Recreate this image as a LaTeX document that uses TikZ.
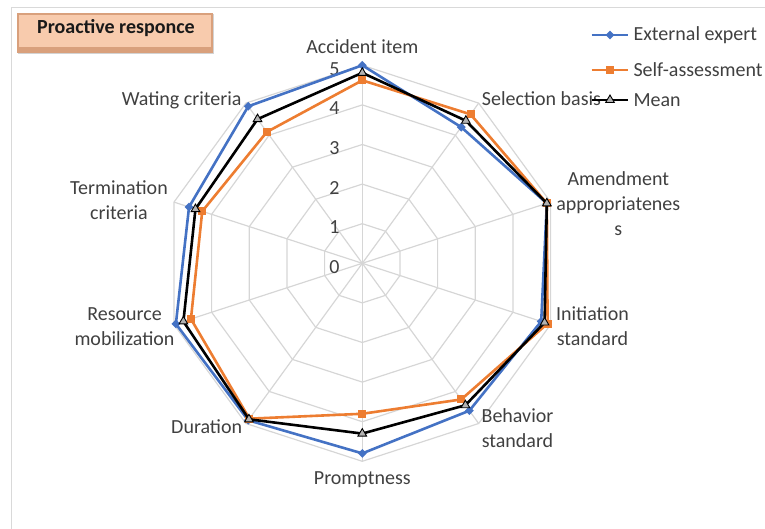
\documentclass[tikz,border=0pt]{standalone}
\usepackage{fontspec}
\setmainfont{Carlito}
\usetikzlibrary{positioning, calc, shapes.geometric, shadows}
\definecolor{expblue}{HTML}{4472C4}
\definecolor{selforange}{HTML}{ED7D31}
\definecolor{gridgray}{HTML}{D6D6D6}
\definecolor{labgray}{HTML}{404040}
\definecolor{peach}{HTML}{F8CBAD}
\definecolor{peachdk}{HTML}{D9A07C}
\tikzset{%
	webline/.style={draw=gridgray, line width=1.2pt},
	serie/.style={line width=2.6pt, line join=round},
	expert/.style={serie, draw=expblue},
	selfas/.style={serie, draw=selforange},
	avg/.style={serie, draw=black},
	dmark/.style={diamond, fill=expblue, inner sep=0, minimum size=9pt},
	smark/.style={rectangle, fill=selforange, inner sep=0, minimum size=8pt},
	tmark/.style={regular polygon, regular polygon sides=3, draw=black, fill=black!30,%
		line width=0.9pt, inner sep=0, minimum size=10pt},
	axlabel/.style={text=labgray, align=center, inner sep=0, font=\fontsize{20}{25}\selectfont},
	ticklabel/.style={text=labgray, inner sep=0, anchor=east, font=\fontsize{20}{24}\selectfont},
	legtext/.style={axlabel, anchor=west},
	titlebox/.style={rectangle, fill=peachdk, minimum width=196pt, minimum height=40pt, inner sep=0,%
		drop shadow={shadow xshift=1pt, shadow yshift=-1.5pt, opacity=.35}},
	titletext/.style={text=black!90, inner sep=0, font=\fontsize{20}{24}\selectfont\bfseries}
}

\begin{document}
\begin{tikzpicture}[x=1pt, y=1pt]
	\useasboundingbox (-362.3,-265.7) rectangle (402.7,263.3);
	\def\ru{39.6}

	% chart frame
	\draw[draw=black!15, line width=1pt] (-351,-265.7) |- (402.7,256);

	% web
	\coordinate (o) at (0,0);
	\foreach \r in {1,...,5}
		\draw[webline] (90:\r*\ru) \foreach \k in {1,...,9} {-- ({90-36*\k}:\r*\ru)} -- cycle;
	\foreach \k in {0,...,9}
		\draw[webline] (o) -- ({90-36*\k}:5*\ru);

	% ticks
	\foreach \r in {0,...,5}
		\node[ticklabel] (tk\r) at (-22.5, \r*\ru-3.5) {\r};

	% series
	\foreach \v [count=\i from 0] in {5.0,4.25,4.9,4.75,4.6,4.8,4.9,4.95,4.6,4.9}
		\coordinate (e\i) at ({90-36*\i}:\v*\ru);
	\foreach \v [count=\i from 0] in {4.62,4.65,4.9,4.92,4.25,3.8,4.85,4.55,4.25,4.1}
		\coordinate (s\i) at ({90-36*\i}:\v*\ru);
	\foreach \v [count=\i from 0] in {4.81,4.45,4.9,4.84,4.43,4.3,4.87,4.75,4.43,4.5}
		\coordinate (m\i) at ({90-36*\i}:\v*\ru);

	\draw[expert] (e0) \foreach \i in {1,...,9} {-- (e\i)} -- cycle;
	\foreach \i in {0,...,9} \node[dmark] (em\i) at (e\i) {};
	\draw[selfas] (s0) \foreach \i in {1,...,9} {-- (s\i)} -- cycle;
	\foreach \i in {0,...,9} \node[smark] (sm\i) at (s\i) {};
	\draw[avg] (m0) \foreach \i in {1,...,9} {-- (m\i)} -- cycle;
	\foreach \i in {0,...,9} \node[tmark] (mm\i) at (m\i) {};

	% axis labels
	\node[axlabel] (acc) at (0,217) {Accident item};
	\node[axlabel, anchor=west] (sel) at (119.4,164.3) {Selection basis};
	\node[axlabel] (amd) at (256,60) {Amendment\\appropriatenes\\s};
	\node[axlabel] (ini) at (230.2,-62.5) {Initiation\\standard};
	\node[axlabel] (beh) at (155.2,-165) {Behavior\\standard};
	\node[axlabel] (pro) at (0,-216.7) {Promptness};
	\node[axlabel] (dur) at (-155.6,-163.4) {Duration};
	\node[axlabel] (res) at (-237.8,-63) {Resource\\mobilization};
	\node[axlabel] (ter) at (-243.3,63.6) {Termination\\criteria};
	\node[axlabel, anchor=east] (wat) at (-120.6,163.3) {Wating criteria};

	% legend
	\foreach \sty/\y/\mk/\txt [count=\j] in {expert/228.3/dmark/External expert,%
		selfas/193.3/smark/Self-assessment, avg/163.3/tmark/Mean} {
		\coordinate (la\j) at (229.4,\y);
		\coordinate (lb\j) at (266,\y);
		\draw[\sty] (la\j) -- (lb\j);
		\node[\mk] (lm\j) at ($(la\j)!.5!(lb\j)$) {};
		\node[legtext] (lt\j) at (271,\y) {\txt};
	}

	% title
	\node[titlebox] (ttl) at (-247.3,230.3) {};
	\fill[peach] ([shift={(2.5,-2)}]ttl.north west) rectangle ([shift={(-2.5,6)}]ttl.south east);
	\node[titletext] (ttltxt) at (-246.3,235.3) {Proactive responce};
\end{tikzpicture}
\end{document}
